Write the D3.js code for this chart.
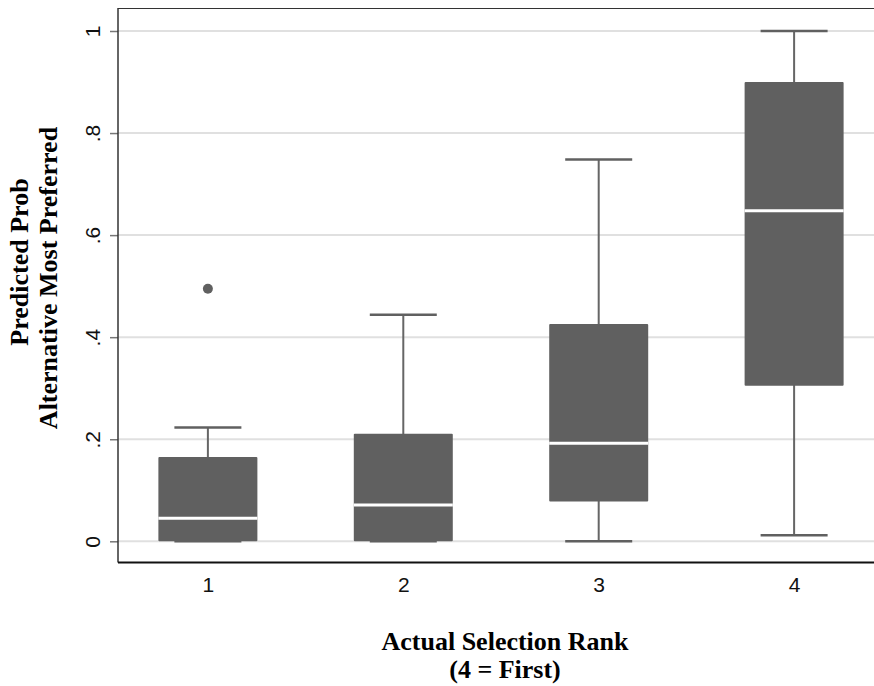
<!DOCTYPE html>
<html>
<head>
<meta charset="utf-8">
<script src="https://cdn.jsdelivr.net/npm/d3@7"></script>
<style>
  body { margin: 0; background: #fff; }
  svg { display: block; }
</style>
</head>
<body>
<div id="chart"></div>
<script>
// box plot stats
const ranks = ["1", "2", "3", "4"];
const whiskerLow = [0, 0, 0, 0.012];
const q1 = [0, 0, 0.078, 0.305];
const medians = [0.045, 0.071, 0.192, 0.648];
const q3 = [0.165, 0.211, 0.426, 0.900];
const whiskerHigh = [0.223, 0.444, 0.748, 1.0];
const outliers = [{ rank: "1", value: 0.495 }];
const yTicks = [0, 0.2, 0.4, 0.6, 0.8, 1];
const yLabels = ["0", ".2", ".4", ".6", ".8", "1"];

const width = 874;
const height = 686;
const margin = { left: 118, right: -10, top: 8, bottom: 124 };

const boxes = ranks.map((r, i) => ({
  rank: r,
  lo: whiskerLow[i],
  q1: q1[i],
  med: medians[i],
  q3: q3[i],
  hi: whiskerHigh[i],
}));

const svg = d3
  .select("#chart")
  .append("svg")
  .attr("width", width)
  .attr("height", height);

const x = d3
  .scalePoint()
  .domain(ranks)
  .range([margin.left, width - margin.right])
  .padding(0.46);

const y = d3
  .scaleLinear()
  .domain([0, 1])
  .range([541.3, 31]);

const plotBottom = height - margin.bottom + 0.5;
const tickFont = "Liberation Sans, Arial, sans-serif";

// grid lines
svg
  .append("g")
  .attr("class", "grid")
  .selectAll("line")
  .data(yTicks)
  .join("line")
  .attr("x1", margin.left)
  .attr("x2", width)
  .attr("y1", (d) => y(d))
  .attr("y2", (d) => y(d))
  .attr("stroke", "#e0e0e0")
  .attr("stroke-width", 2);

// top border
svg
  .append("line")
  .attr("x1", margin.left)
  .attr("x2", width)
  .attr("y1", margin.top + 0.5)
  .attr("y2", margin.top + 0.5)
  .attr("stroke", "#333")
  .attr("stroke-width", 1);

// y axis
const yAxis = d3
  .axisLeft(y)
  .tickValues(yTicks)
  .tickSize(8)
  .tickFormat((d, i) => yLabels[i]);

const yG = svg
  .append("g")
  .attr("transform", `translate(${margin.left},0)`)
  .call(yAxis);
yG.select(".domain").remove();
yG.selectAll(".tick line").attr("stroke", "#777").attr("stroke-width", 1.5);
yG.selectAll(".tick text")
  .attr("font-family", tickFont)
  .attr("font-size", 21)
  .attr("fill", "#111")
  .attr("x", null)
  .attr("dy", null)
  .attr("text-anchor", "middle")
  .attr("transform", "translate(-18,0) rotate(-90)");

svg
  .append("line")
  .attr("x1", margin.left)
  .attr("x2", margin.left)
  .attr("y1", margin.top)
  .attr("y2", plotBottom)
  .attr("stroke", "#333")
  .attr("stroke-width", 1.5);

// x axis
const xAxis = d3.axisBottom(x).tickSize(0).tickPadding(15);
const xG = svg
  .append("g")
  .attr("transform", `translate(0,${plotBottom})`)
  .call(xAxis);
xG.select(".domain").remove();
xG.selectAll(".tick text")
  .attr("font-family", tickFont)
  .attr("font-size", 21)
  .attr("fill", "#111");

svg
  .append("line")
  .attr("x1", margin.left)
  .attr("x2", width)
  .attr("y1", plotBottom)
  .attr("y2", plotBottom)
  .attr("stroke", "#111")
  .attr("stroke-width", 2);

const boxHalf = 49.5;
const capHalf = 33.5;
const boxColor = "#606060";

const g = svg.append("g").attr("class", "boxes");

// whiskers
g.selectAll("line.whisker")
  .data(boxes)
  .join("line")
  .attr("class", "whisker")
  .attr("x1", (d) => x(d.rank))
  .attr("x2", (d) => x(d.rank))
  .attr("y1", (d) => y(d.lo))
  .attr("y2", (d) => y(d.hi))
  .attr("stroke", "#666")
  .attr("stroke-width", 2);

// caps
g.selectAll("line.cap-hi")
  .data(boxes)
  .join("line")
  .attr("class", "cap-hi")
  .attr("x1", (d) => x(d.rank) - capHalf)
  .attr("x2", (d) => x(d.rank) + capHalf)
  .attr("y1", (d) => y(d.hi))
  .attr("y2", (d) => y(d.hi))
  .attr("stroke", boxColor)
  .attr("stroke-width", 2.5);

g.selectAll("line.cap-lo")
  .data(boxes)
  .join("line")
  .attr("class", "cap-lo")
  .attr("x1", (d) => x(d.rank) - capHalf)
  .attr("x2", (d) => x(d.rank) + capHalf)
  .attr("y1", (d) => y(d.lo))
  .attr("y2", (d) => y(d.lo))
  .attr("stroke", boxColor)
  .attr("stroke-width", 2.5);

// boxes
g.selectAll("rect.box")
  .data(boxes)
  .join("rect")
  .attr("class", "box")
  .attr("x", (d) => x(d.rank) - boxHalf)
  .attr("width", boxHalf * 2)
  .attr("y", (d) => y(d.q3))
  .attr("height", (d) => y(d.q1) - y(d.q3))
  .attr("rx", 1)
  .attr("fill", boxColor);

// medians
g.selectAll("line.median")
  .data(boxes)
  .join("line")
  .attr("class", "median")
  .attr("x1", (d) => x(d.rank) - boxHalf)
  .attr("x2", (d) => x(d.rank) + boxHalf)
  .attr("y1", (d) => y(d.med))
  .attr("y2", (d) => y(d.med))
  .attr("stroke", "#fff")
  .attr("stroke-width", 3);

// outliers
g.selectAll("circle")
  .data(outliers)
  .join("circle")
  .attr("cx", (d) => x(d.rank))
  .attr("cy", (d) => y(d.value))
  .attr("r", 5)
  .attr("fill", boxColor);

// axis titles
const titleFont = "Liberation Serif, Times New Roman, serif";

svg
  .append("text")
  .attr("transform", "translate(28,262) rotate(-90)")
  .attr("text-anchor", "middle")
  .attr("font-family", titleFont)
  .attr("font-weight", "bold")
  .attr("font-size", 26)
  .attr("fill", "#000")
  .text("Predicted Prob");

svg
  .append("text")
  .attr("transform", "translate(57,278) rotate(-90)")
  .attr("text-anchor", "middle")
  .attr("font-family", titleFont)
  .attr("font-weight", "bold")
  .attr("font-size", 26)
  .attr("fill", "#000")
  .text("Alternative Most Preferred");

const xTitle = svg
  .append("text")
  .attr("text-anchor", "middle")
  .attr("font-family", titleFont)
  .attr("font-weight", "bold")
  .attr("font-size", 26)
  .attr("fill", "#000");
xTitle.append("tspan").attr("x", 505).attr("y", 650).text("Actual Selection Rank");
xTitle.append("tspan").attr("x", 505).attr("y", 678).text("(4 = First)");
</script>
</body>
</html>
